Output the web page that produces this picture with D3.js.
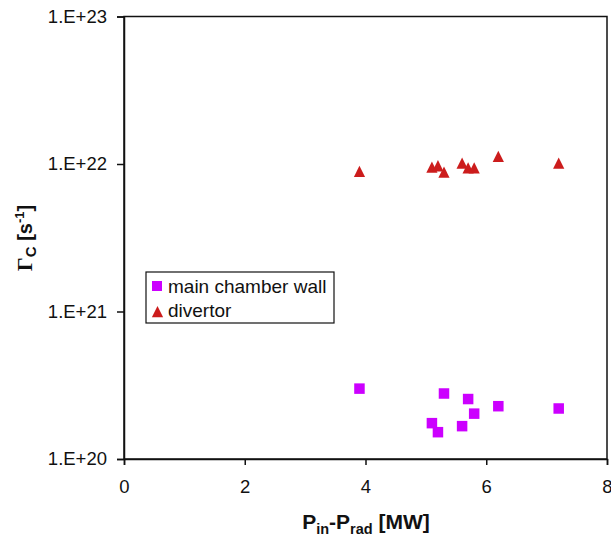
<!DOCTYPE html>
<html>
<head>
<meta charset="utf-8">
<script src="https://cdn.jsdelivr.net/npm/d3@7"></script>
<style>
  html, body { margin: 0; padding: 0; background: #fff; }
  svg { display: block; font-family: Arial, "Liberation Sans", sans-serif; }
</style>
</head>
<body>
<svg id="chart" width="611" height="537"></svg>
<script>
// Carbon source rates vs. net heating power
const wallX = [3.9, 5.1, 5.2, 5.3, 5.6, 5.7, 5.8, 6.2, 7.2];
const wallY = [3.0e20, 1.75e20, 1.52e20, 2.78e20, 1.67e20, 2.55e20, 2.03e20, 2.28e20, 2.2e20];
const divX = [3.9, 5.1, 5.2, 5.3, 5.6, 5.7, 5.8, 6.2, 7.2];
const divY = [8.8e21, 9.4e21, 9.6e21, 8.7e21, 1.0e22, 9.3e21, 9.3e21, 1.11e22, 1.0e22];
const xTicks = [0, 2, 4, 6, 8];
const yTicks = [1e20, 1e21, 1e22, 1e23];
const yTickLabels = ["1.E+20", "1.E+21", "1.E+22", "1.E+23"];
const seriesNames = ["main chamber wall", "divertor"];
const seriesColors = ["#CC00FF", "#CC1C1C"];

const svg = d3.select("#chart");
const plot = { left: 124, top: 16.5, right: 607, bottom: 459 };

const x = d3.scaleLinear().domain([0, 8]).range([plot.left, plot.right]);
const y = d3.scaleLog().domain([1e20, 1e23]).range([plot.bottom, plot.top]);

// Frame
svg.append("rect")
  .attr("x", plot.left).attr("y", plot.top)
  .attr("width", plot.right - plot.left).attr("height", plot.bottom - plot.top)
  .attr("fill", "none").attr("stroke", "#111").attr("stroke-width", 1.5);

// Axes
const xAxis = d3.axisBottom(x).tickValues(xTicks).tickSize(6).tickPadding(15)
  .tickFormat(d3.format("d"));
const gx = svg.append("g").attr("transform", `translate(0,${plot.bottom})`).call(xAxis);
const yAxis = d3.axisLeft(y).tickValues(yTicks).tickSize(7).tickPadding(10)
  .tickFormat((d, i) => yTickLabels[i]);
const gy = svg.append("g").attr("transform", `translate(${plot.left},0)`).call(yAxis);

[gx, gy].forEach(g => {
  g.select(".domain").attr("stroke", "#111").attr("stroke-width", 1.5);
  g.selectAll(".tick line").attr("stroke", "#111").attr("stroke-width", 1.5);
  g.selectAll(".tick text").attr("fill", "#111")
    .style("font-size", "18.5px").style("font-family", "Arial, 'Liberation Sans', sans-serif");
});

// Markers
const sqSide = 10.5;
const triPath = "M0,-6.5L5.6,4.8L-5.6,4.8Z";

svg.append("g").selectAll("rect").data(wallX.map((d, i) => [d, wallY[i]])).join("rect")
  .attr("x", d => x(d[0]) - sqSide / 2)
  .attr("y", d => y(d[1]) - sqSide / 2)
  .attr("width", sqSide).attr("height", sqSide)
  .attr("fill", seriesColors[0]);

svg.append("g").selectAll("path").data(divX.map((d, i) => [d, divY[i]])).join("path")
  .attr("d", triPath)
  .attr("transform", d => `translate(${x(d[0])},${y(d[1])})`)
  .attr("fill", seriesColors[1]);

// Legend
const lg = svg.append("g");
lg.append("rect").attr("x", 146).attr("y", 272).attr("width", 188).attr("height", 51)
  .attr("fill", "#fff").attr("stroke", "#111").attr("stroke-width", 1.2);
lg.append("rect").attr("x", 152).attr("y", 281).attr("width", 10).attr("height", 10)
  .attr("fill", seriesColors[0]);
lg.append("path").attr("d", triPath).attr("transform", "translate(157.5,312.5)")
  .attr("fill", seriesColors[1]);
lg.selectAll("text").data(seriesNames).join("text")
  .attr("x", 168).attr("y", (d, i) => 293 + i * 24)
  .style("font-size", "19px").attr("fill", "#111")
  .text(d => d);

// X axis title
const xt = svg.append("text").attr("x", 366).attr("y", 529)
  .attr("text-anchor", "middle").attr("font-weight", "bold").style("font-size", "21px")
  .attr("fill", "#111");
xt.append("tspan").text("P");
xt.append("tspan").attr("dy", 5).style("font-size", "14.5px").text("in");
xt.append("tspan").attr("dy", -5).text("-P");
xt.append("tspan").attr("dy", 5).style("font-size", "14.5px").text("rad");
xt.append("tspan").attr("dy", -5).text(" [MW]");

// Y axis title
const yt = svg.append("text").attr("transform", "translate(32,238) rotate(-90)")
  .attr("text-anchor", "middle").attr("font-weight", "bold").style("font-size", "20px")
  .attr("fill", "#111");
yt.append("tspan").style("font-family", "'Liberation Serif', 'DejaVu Serif', serif")
  .style("font-size", "22px").text("\u0393");
yt.append("tspan").attr("dy", 4).style("font-size", "15px").text("C");
yt.append("tspan").attr("dy", -4).text(" [s");
yt.append("tspan").attr("dy", -8).style("font-size", "13px").text("-1");
yt.append("tspan").attr("dy", 8).text("]");
</script>
</body>
</html>
